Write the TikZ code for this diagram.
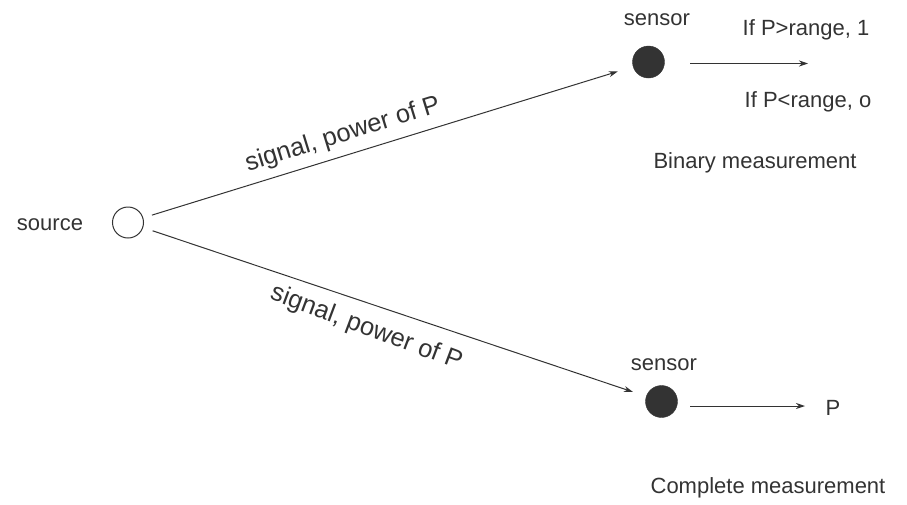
\documentclass[tikz,border=0pt]{standalone}
\usepackage{fontspec}
\setmainfont{Liberation Sans}
\usetikzlibrary{arrows.meta}
\definecolor{ink}{HTML}{333333}
\begin{document}
\begin{tikzpicture}[x=1pt,y=-1pt,
  every node/.style={text=ink, font=\fontsize{22}{26}\selectfont},
  label/.style={inner sep=0pt},
  slabel/.style={inner sep=0pt, font=\fontsize{25.5}{30}\selectfont},
  hollow/.style={circle, draw=ink, line width=1pt, minimum size=31pt, inner sep=0pt},
  solid/.style={circle, fill=ink, draw=ink, minimum size=32pt, inner sep=0pt},
  conn/.style={draw=ink, line width=1pt, -{Stealth[length=9pt,width=6pt]}}
]
\useasboundingbox (0,0) rectangle (907,504);
\node[hollow] (src) at (128,222.5) {};
\node[label] (srcl) at (50,225) {source};
\node[solid] (s1) at (648.5,62) {};
\node[label] (s1l) at (657,20) {sensor};
\node[solid] (s2) at (661.5,401.5) {};
\node[label] (s2l) at (664,365) {sensor};
\coordinate (o1) at (808,63.5);
\coordinate (o2) at (805,406);
\node[label] (gt) at (806,30) {If P>range, 1};
\node[label] (lt) at (808,102) {If P<range, o};
\node[label] (bm) at (755,163) {Binary measurement};
\node[label] (pp) at (833,408) {P};
\node[label] (cm) at (768,488) {Complete measurement};
\draw[conn, shorten <=9pt, shorten >=16pt] (src) -- node[pos=0.42, sloped, above=8pt, slabel] {signal, power of P} (s1);
\draw[conn, shorten <=10pt, shorten >=14pt] (src) -- node[pos=0.46, sloped, below=12pt, slabel, rotate=-2] {signal, power of P} (s2);
\draw[conn, shorten <=25.5pt] (s1.east |- o1) -- (o1);
\draw[conn, shorten <=12.5pt] (s2.east |- o2) -- (o2);
\end{tikzpicture}
\end{document}
